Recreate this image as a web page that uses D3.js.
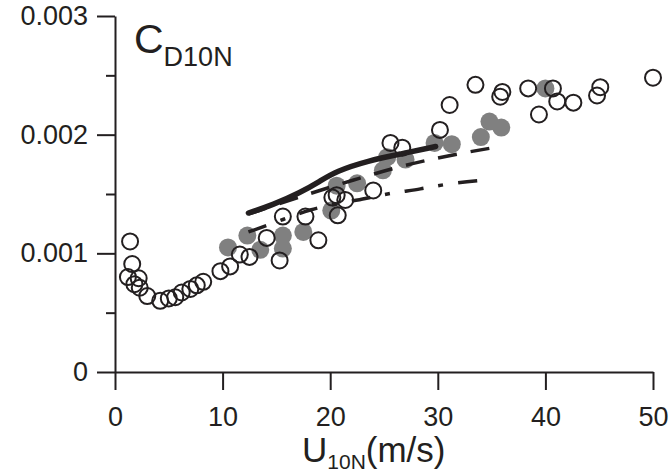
<!DOCTYPE html>
<html>
<head>
<meta charset="utf-8">
<script src="https://cdn.jsdelivr.net/npm/d3@7"></script>
<style>
  body { margin: 0; background: #fff; }
  svg { display: block; font-family: "Liberation Sans", Arial, Helvetica, sans-serif; }
</style>
</head>
<body>
<div id="chart"></div>
<script>
// tick values and labels
const xTicks = [0, 10, 20, 30, 40, 50];
const yTicks = [0, 0.001, 0.002, 0.003];
const yTickLabels = ["0", "0.001", "0.002", "0.003"];
const yMinorTicks = [0.0005, 0.0015, 0.0025];

// open circles: wind speed (m/s) and drag coefficient
const openU = [1.4, 1.6, 1.2, 2.2, 1.8, 2.3, 3.0, 4.2, 5.0, 5.6, 6.2, 7.0, 7.6, 8.2, 9.8, 10.7,
  11.6, 12.5, 14.1, 15.6, 15.3, 17.7, 18.9, 20.2, 20.6, 21.4, 20.7, 24.0, 25.6, 26.7,
  30.2, 31.1, 33.5, 35.8, 36.0, 38.4, 40.7, 41.1, 42.6, 39.4, 44.8, 45.1, 50.0];
const openCd = [1.10, 0.91, 0.80, 0.79, 0.74, 0.71, 0.64, 0.60, 0.62, 0.63, 0.67, 0.70, 0.73, 0.76, 0.85, 0.89,
  0.99, 0.97, 1.13, 1.31, 0.94, 1.31, 1.11, 1.47, 1.49, 1.45, 1.32, 1.53, 1.93, 1.89,
  2.04, 2.25, 2.42, 2.32, 2.36, 2.39, 2.39, 2.28, 2.27, 2.17, 2.33, 2.40, 2.48].map(v => v * 1e-3);

// grey filled circles
const greyU = [10.5, 12.3, 13.5, 15.6, 15.6, 17.5, 20.1, 20.6, 22.5, 24.9, 25.3, 27.0, 29.7, 31.3, 34.0, 34.8, 35.9, 40.0];
const greyCd = [1.05, 1.15, 1.03, 1.15, 1.04, 1.18, 1.36, 1.57, 1.59, 1.70, 1.81, 1.79, 1.93, 1.92, 1.98, 2.11, 2.06, 2.39].map(v => v * 1e-3);

// curves
const solidU = [12.4, 14.7, 17.2, 19.1, 20.5, 23.5, 26.7, 29.8];
const solidCd = [1.34, 1.41, 1.51, 1.61, 1.69, 1.78, 1.84, 1.90].map(v => v * 1e-3);
const dashU = [12.4, 16.3, 19.7, 22.6, 25.6, 28.7, 32.5, 35.8];
const dashCd = [1.33, 1.45, 1.55, 1.63, 1.71, 1.78, 1.85, 1.90].map(v => v * 1e-3);
const dashDotU = [12.4, 15.8, 18.1, 20.7, 23.3, 25.7, 28.4, 31.0, 34.6];
const dashDotCd = [1.18, 1.29, 1.37, 1.42, 1.46, 1.51, 1.54, 1.59, 1.62].map(v => v * 1e-3);

const width = 670, height = 476;
const ink = "#231f20";

const svg = d3.select("#chart").append("svg")
  .attr("width", width)
  .attr("height", height);

const x = d3.scaleLinear().domain([0, 50]).range([115, 653]);
const y = d3.scaleLinear().domain([0, 0.003]).range([372, 16]);

// axes
svg.append("g")
  .attr("transform", "translate(0," + y(0) + ")")
  .call(d3.axisBottom(x).tickValues(xTicks).tickSize(18).tickSizeOuter(0).tickPadding(17).tickFormat(d3.format("d")));

svg.append("g")
  .attr("transform", "translate(" + x(0) + ",0)")
  .call(d3.axisLeft(y).tickValues(yTicks).tickSize(18).tickSizeOuter(0).tickPadding(9)
    .tickFormat((d, i) => yTickLabels[i]));

svg.append("g")
  .attr("transform", "translate(" + x(0) + ",0)")
  .call(d3.axisLeft(y).tickValues(yMinorTicks).tickSize(9).tickSizeOuter(0).tickFormat(""))
  .select(".domain").remove();

svg.selectAll(".domain, .tick line")
  .attr("stroke", ink)
  .attr("stroke-width", 2);
svg.selectAll(".tick text")
  .attr("fill", ink)
  .style("font-size", "27px")
  .style("font-family", "'Liberation Sans', Arial, sans-serif");

// grey points
svg.append("g").selectAll("circle")
  .data(greyU)
  .join("circle")
  .attr("cx", d => x(d))
  .attr("cy", (d, i) => y(greyCd[i]))
  .attr("r", 9)
  .attr("fill", "#808080");

// open points
svg.append("g").selectAll("circle")
  .data(openU)
  .join("circle")
  .attr("cx", d => x(d))
  .attr("cy", (d, i) => y(openCd[i]))
  .attr("r", 8)
  .attr("fill", "none")
  .attr("stroke", ink)
  .attr("stroke-width", 2);

// lines
const line = d3.line()
  .x(d => x(d[0]))
  .y(d => y(d[1]))
  .curve(d3.curveBasis);

svg.append("path")
  .attr("d", line(dashU.map((u, i) => [u, dashCd[i]])))
  .attr("fill", "none")
  .attr("stroke", ink)
  .attr("stroke-width", 3.5)
  .attr("stroke-dasharray", "19,14");

svg.append("path")
  .attr("d", line(dashDotU.map((u, i) => [u, dashDotCd[i]])))
  .attr("fill", "none")
  .attr("stroke", ink)
  .attr("stroke-width", 3.5)
  .attr("stroke-dasharray", "19,15,5,15");

svg.append("path")
  .attr("d", line(solidU.map((u, i) => [u, solidCd[i]])))
  .attr("fill", "none")
  .attr("stroke", ink)
  .attr("stroke-width", 5.5)
  .attr("stroke-linecap", "round");

// panel title
const title = svg.append("text")
  .attr("x", 134)
  .attr("y", 53)
  .attr("fill", ink)
  .style("font-size", "41px");
title.append("tspan").text("C");
title.append("tspan").attr("dy", 13).style("font-size", "27px").text("D10N");

// x axis label
const xLabel = svg.append("text")
  .attr("x", 302)
  .attr("y", 462)
  .attr("fill", ink)
  .style("font-size", "35px");
xLabel.append("tspan").text("U");
xLabel.append("tspan").attr("dy", 7).style("font-size", "21px").text("10N");
xLabel.append("tspan").attr("dy", -7).text("(m/s)");
</script>
</body>
</html>
